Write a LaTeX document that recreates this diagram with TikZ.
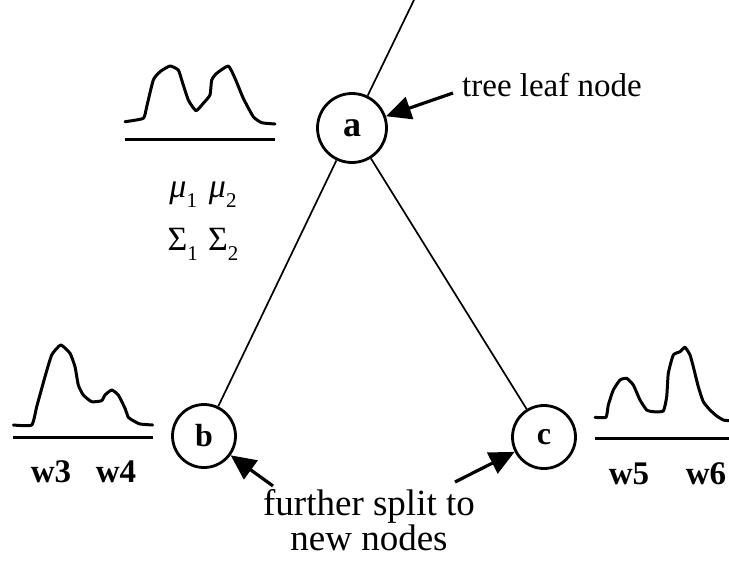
\documentclass[tikz,border=0pt]{standalone}
\usepackage{fontspec}
\setmainfont{Liberation Serif}
\usetikzlibrary{arrows.meta}
\newcommand{\subidx}[1]{\raisebox{-0.3em}{\fontsize{21}{21}\selectfont #1}}
\begin{document}
\begin{tikzpicture}[x=1pt,y=-1pt,
  treenode/.style={circle,draw,line width=2.8pt,minimum size=63pt,inner sep=0pt,
    font=\fontsize{32}{32}\selectfont\bfseries},
  rootnode/.style={treenode,minimum size=69pt,font=\fontsize{36}{36}\selectfont\bfseries},
  branch/.style={line width=1.7pt},
  curve/.style={line width=3pt,line join=round,line cap=round},
  axisline/.style={line width=3pt},
  pointer/.style={line width=3.2pt,-{Triangle[length=25pt,width=23pt]}},
  leaflabel/.style={font=\fontsize{33}{33}\selectfont,inner sep=0pt},
  splitlabel/.style={font=\fontsize{37}{35}\selectfont,align=center,inner sep=0pt},
  wlabel/.style={font=\fontsize{33}{33}\selectfont\bfseries,inner sep=0pt},
  params/.style={font=\fontsize{34}{34}\selectfont,inner sep=0pt}]
\useasboundingbox (0,0) rectangle (729,563);

% tree nodes
\node[rootnode] (a) at (352,128) {a};
\node[treenode] (b) at (204,436) {b};
\node[treenode] (c) at (544,437) {c};
\coordinate (up) at (414,0);

% branches
\draw[branch] (a) -- (up);
\draw[branch] (a) -- (b);
\draw[branch] (a) -- (c);

% annotations
\node[leaflabel,anchor=west] (leaf) at (462,85) {tree leaf node};
\node[splitlabel] (split) at (369,520) {further split to\\new nodes};
\coordinate (leafarrow) at (453,93);
\coordinate (splitl) at (273,486);
\coordinate (splitr) at (455,482);
\draw[pointer] (leafarrow) -- (a);
\draw[pointer] (splitl) -- (b);
\draw[pointer] (splitr) -- (c);

% mixture density at the leaf node
\draw[curve] plot[smooth,tension=0.3] coordinates {(125,121.7) (143.3,118.3) (146.7,106.7) (153.3,80) (160,71.7) (170,66) (178.3,70) (181.7,80) (188.3,100) (196,110.7) (203.3,103.3) (210,95) (211.7,80) (216.7,73.3) (228.3,66) (235,78.3) (243.3,98.3) (253.3,116.7) (261.7,122.7) (275,124)};
\draw[axisline] (125,139.5) -- (275,139.5);
\node[params] (mu) at (203,195) {\textit{μ}\subidx{1}\hspace{0.35em}\textit{μ}\subidx{2}};
\node[params] (sigma) at (203,244) {Σ\subidx{1}\hspace{0.3em}Σ\subidx{2}};

% density at node b
\draw[curve] plot[smooth,tension=0.3] coordinates {(13.3,425) (31.7,425) (36.7,406.7) (45,376.7) (51.7,355) (60.7,345) (70,353.3) (75,366.7) (78.3,385) (83.3,395) (91.7,401.7) (101.7,400.7) (105,395) (111.7,390) (118.3,395) (125,408.3) (128.3,417.3) (133.3,420.7) (140,424) (152.7,425)};
\draw[axisline] (13.3,437.5) -- (152.7,437.5);
\node[wlabel] (w3) at (51,472) {w3};
\node[wlabel] (w4) at (116,472) {w4};

% density at node c
\draw[curve] plot[smooth,tension=0.3] coordinates {(595,417.3) (606,417.3) (608.3,405) (613.3,390) (620,380) (626.7,378.3) (633.3,385) (640,400) (646.7,410) (653.3,411.7) (663.3,411) (666.7,396.7) (668.3,373.3) (673.3,355) (680,351.7) (685,347.3) (690,355) (693.3,366.7) (698.3,386.7) (703.3,401.7) (710,410) (716.7,416) (723.3,420) (729,420.7)};
\draw[axisline] (595,438.5) -- (729,438.5);
\node[wlabel] (w5) at (629,474) {w5};
\node[wlabel] (w6) at (706,474) {w6};
\end{tikzpicture}
\end{document}
